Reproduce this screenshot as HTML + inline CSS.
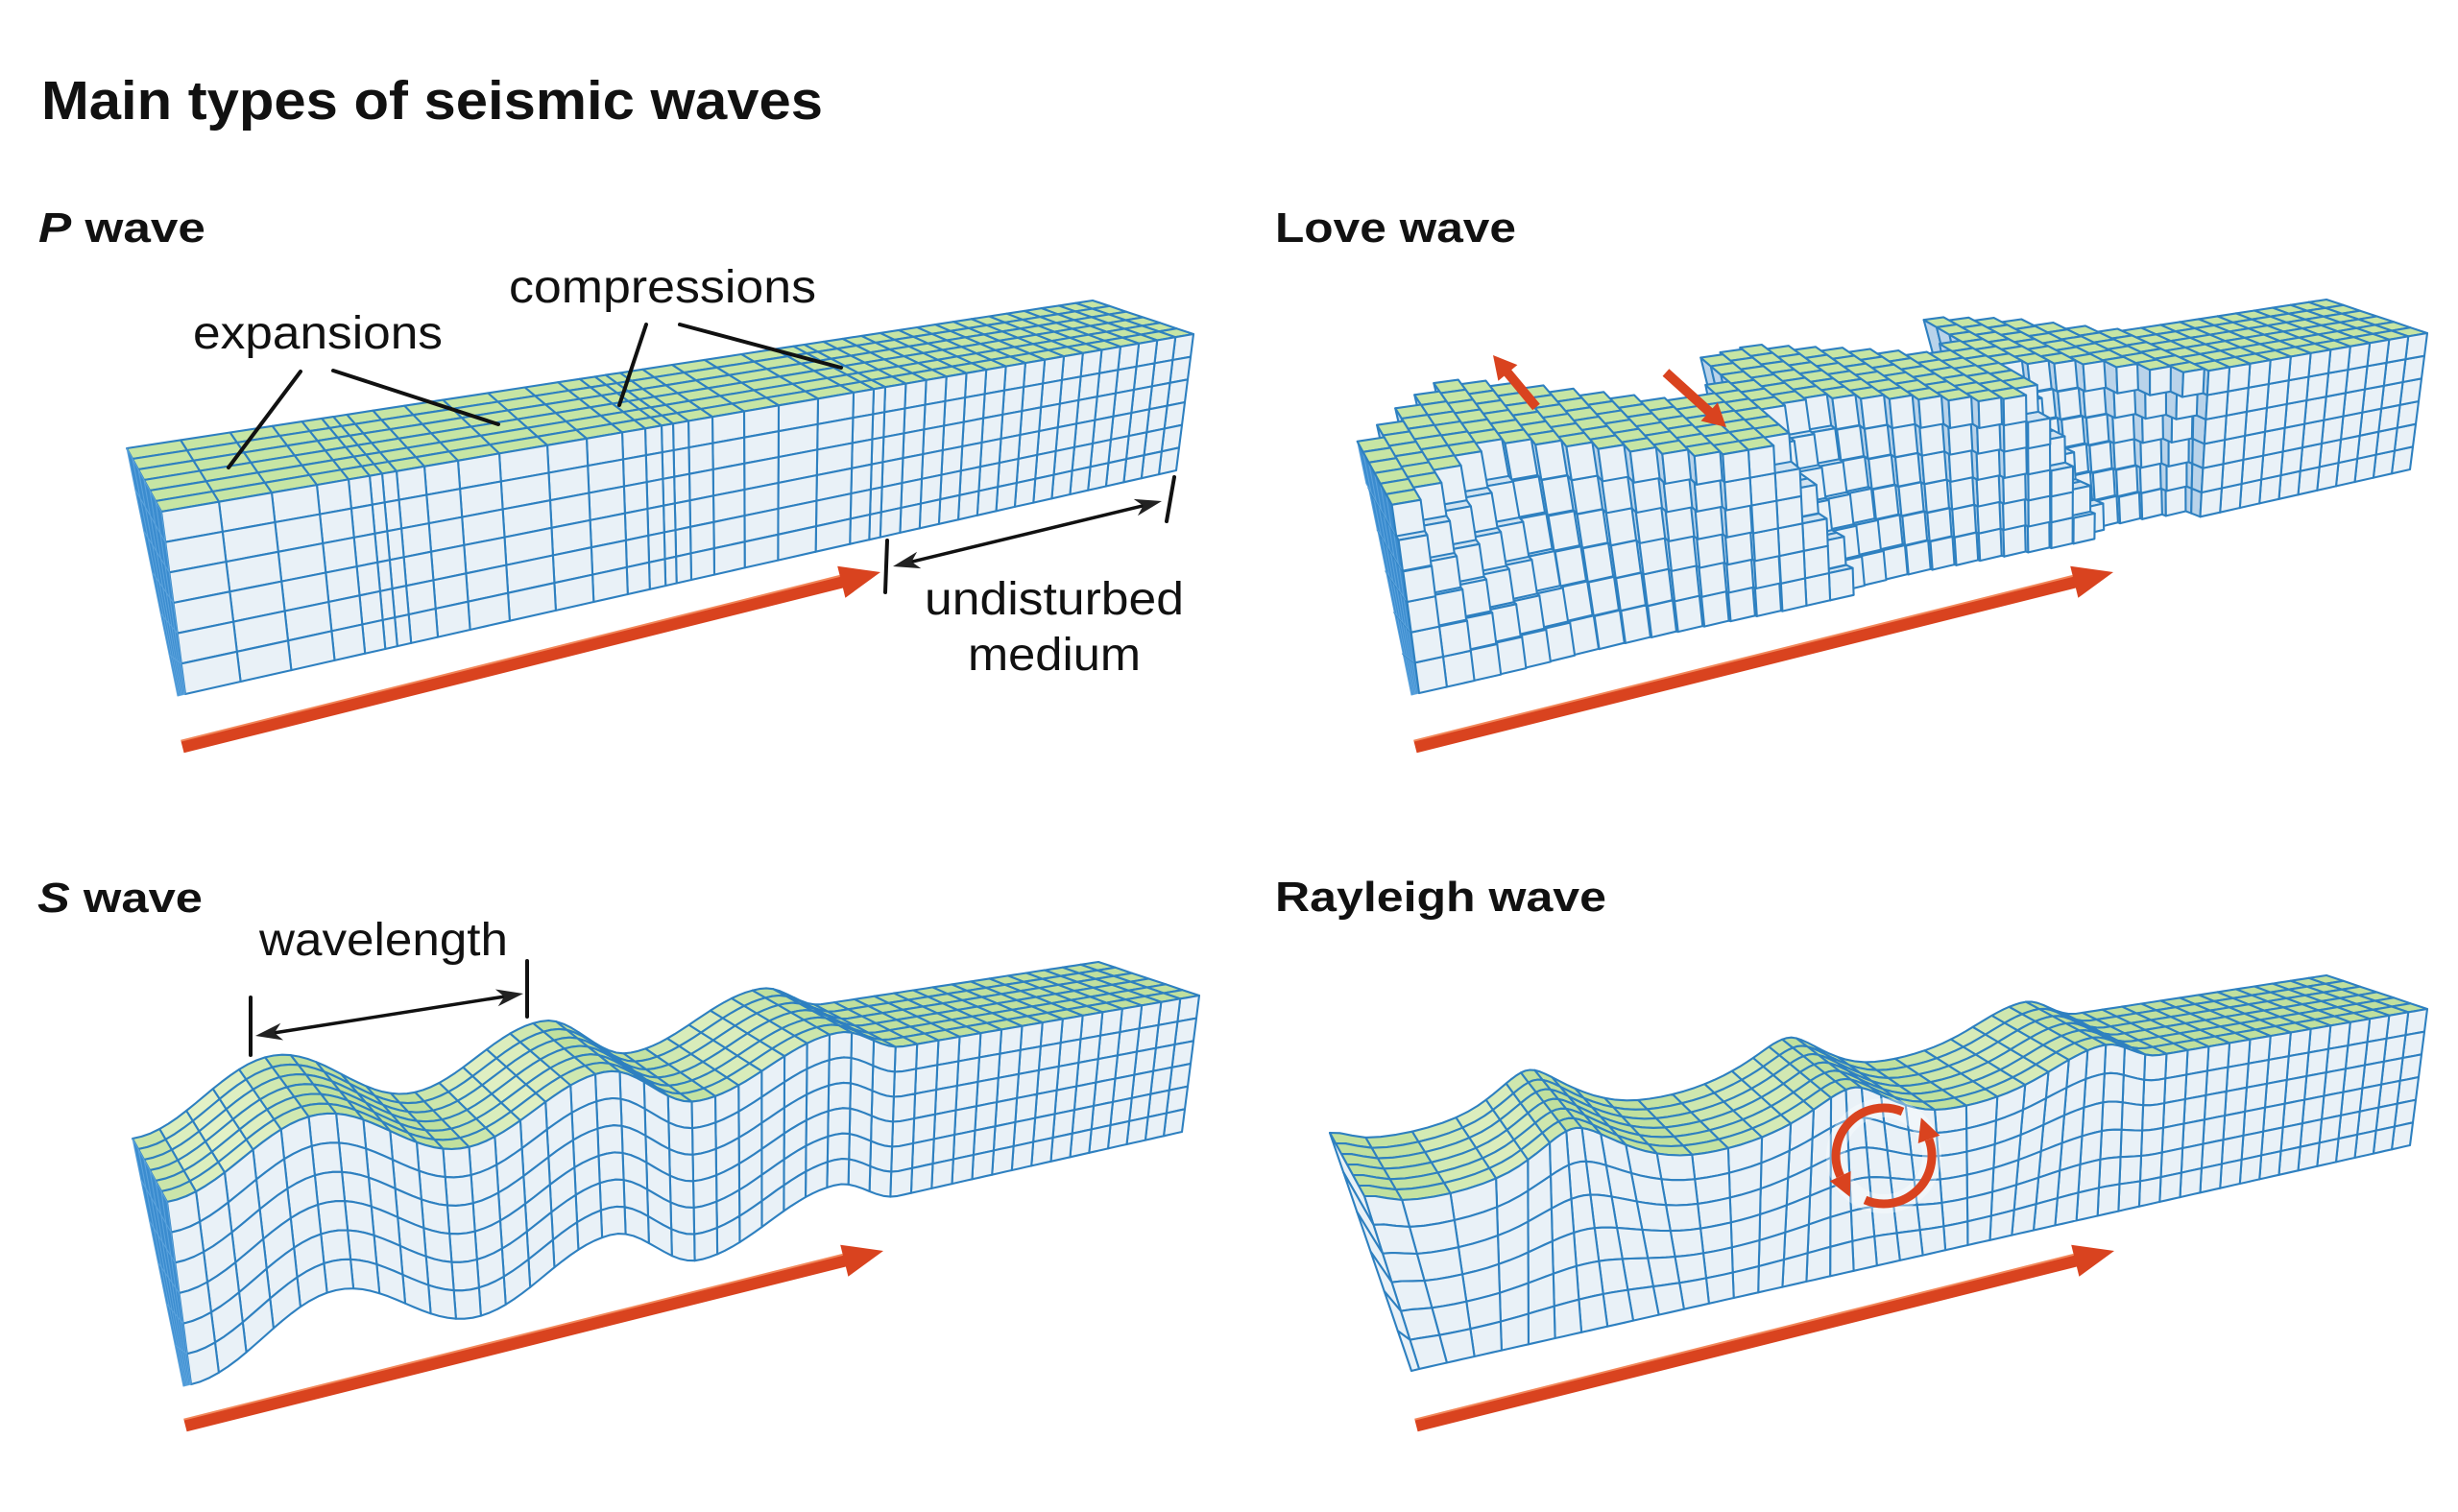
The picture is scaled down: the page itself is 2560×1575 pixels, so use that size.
<!DOCTYPE html>
<html><head><meta charset="utf-8">
<style>
html,body{margin:0;padding:0;background:#fff;}
svg{display:block;}
text{font-family:"Liberation Sans",Arial,sans-serif;fill:#111;}
</style></head><body>
<svg id="s" xmlns="http://www.w3.org/2000/svg" width="2560" height="1575" viewBox="0 0 2560 1575">
<rect width="2560" height="1575" fill="#fff"/>
<g id="blocks" stroke="#2e80c0" stroke-width="2.1" stroke-linejoin="round"></g>

<!-- leader lines -->
<g stroke="#111" stroke-width="4" stroke-linecap="round" fill="none">
<line x1="313" y1="387" x2="238" y2="487"/>
<line x1="347" y1="386" x2="519" y2="442"/>
<line x1="673" y1="338" x2="645" y2="422"/>
<line x1="708" y1="338" x2="876" y2="383"/>
</g>

<!-- red propagation arrows -->
<g id="redarrow">
<polygon points="188.4,771.7 874.7,599.9 872.2,589.7 917,596 880.4,622.7 877.9,612.5 191.6,784.3" fill="#d9431f"/>
<polyline points="188.4,771.7 874.7,599.9" stroke="#f2875a" stroke-width="2" fill="none"/>
</g>
<use href="#redarrow" transform="translate(1284,0)"/>
<use href="#redarrow" transform="translate(3,707)"/>
<use href="#redarrow" transform="translate(1285,707)"/>

<!-- Love wave small arrows -->
<polygon points="1603.8,420.8 1574.2,385.2 1580.4,380.1 1555,370 1560.4,396.7 1566.6,391.6 1596.2,427.2" fill="#d9431f"/>
<polygon points="1731.6,391.7 1776.8,432.6 1771.5,438.5 1798,445 1788.9,419.3 1783.6,425.2 1738.4,384.3" fill="#d9431f"/>

<!-- dimension markers -->
<g stroke="#111" stroke-width="4" stroke-linecap="round">
<line x1="924" y1="563" x2="922" y2="617"/>
<line x1="1223" y1="497" x2="1215" y2="543"/>
<line x1="949" y1="585.3" x2="1191" y2="526.7" stroke-width="3.5"/>
<line x1="261" y1="1039" x2="261" y2="1099"/>
<line x1="549" y1="1001" x2="549" y2="1059"/>
<line x1="285.8" y1="1075.9" x2="525.2" y2="1038.1" stroke-width="3.5"/>
</g>
<g fill="#222">
<polygon points="930,590 955.1,574.7 949.4,585.3 959.3,592.1"/>
<polygon points="1210,522 1180.7,519.9 1190.6,526.7 1184.9,537.3"/>
<polygon points="266,1079 292.3,1065.7 285.8,1075.9 295.1,1083.5"/>
<polygon points="545,1035 515.9,1030.5 525.2,1038.1 518.7,1048.3"/>
</g>

<!-- Rayleigh circular arrows -->
<circle cx="1962" cy="1204" r="50" fill="none" stroke="#ffffff" stroke-opacity="0.35" stroke-width="20"/>
<g fill="none" stroke="#d9431f" stroke-width="9">
<path d="M1981.5,1158.0 A50,50 0 0 0 1916.7,1225.1"/>
<path d="M1942.5,1250.0 A50,50 0 0 0 2009.0,1186.9"/>
</g>
<g fill="#d9431f">
<polygon points="1905.8,1230.2 1927.6,1220.0 1926.8,1246.9"/>
<polygon points="2020.3,1182.8 1997.7,1191.0 2000.8,1164.3"/>
</g>

<!-- text -->
<text x="43" y="124" font-size="57" font-weight="bold" textLength="814" lengthAdjust="spacingAndGlyphs">Main types of seismic waves</text>
<text x="40" y="252" font-size="44" font-weight="bold" textLength="174" lengthAdjust="spacingAndGlyphs"><tspan font-style="italic">P</tspan> wave</text>
<text x="1328" y="252" font-size="44" font-weight="bold" textLength="251" lengthAdjust="spacingAndGlyphs">Love wave</text>
<text x="39" y="950" font-size="44" font-weight="bold" textLength="172" lengthAdjust="spacingAndGlyphs"><tspan font-style="italic">S</tspan> wave</text>
<text x="1328" y="949" font-size="44" font-weight="bold" textLength="345" lengthAdjust="spacingAndGlyphs">Rayleigh wave</text>
<text x="201" y="363" font-size="48" textLength="260" lengthAdjust="spacingAndGlyphs">expansions</text>
<text x="530" y="315" font-size="48" textLength="320" lengthAdjust="spacingAndGlyphs">compressions</text>
<text x="963" y="640" font-size="48" textLength="270" lengthAdjust="spacingAndGlyphs">undisturbed</text>
<text x="1008" y="698" font-size="48" textLength="180" lengthAdjust="spacingAndGlyphs">medium</text>
<text x="270" y="995" font-size="48" textLength="259" lengthAdjust="spacingAndGlyphs">wavelength</text>
</svg>
<script>
(function(){
var K=0.806;
function f(u){return u/(u+K*(1-u));}
function finv(t){return t*K/(1-t+t*K);}
function interp(pts,X,cs){
  var n=pts.length;
  if(X<=pts[0][0])return pts[0][1];
  if(X>=pts[n-1][0])return pts[n-1][1];
  for(var i=0;i<n-1;i++){var a=pts[i],b=pts[i+1];
    if(X<=b[0]){var t=(X-a[0])/(b[0]-a[0]);if(cs)t=(1-Math.cos(Math.PI*t))/2;return a[1]+(b[1]-a[1])*t;}}
  return pts[n-1][1];
}
function P(u,v,w,disp){
  var t=f(u);
  var Tx=168+t*1075,Ty=533-t*185,Bx=193+t*1032,By=723-t*233;
  var x=Tx+v*(Bx-Tx),y=Ty+v*(By-Ty);
  var ax=-36-69*t,ay=-66+31*t,bx=-8-60*t,by=2-30*t;
  x+=w*(ax*(1-v)+bx*v);y+=w*(ay*(1-v)+by*v);
  if(disp){var d=disp(Tx,v);x+=d[0];y+=d[1];}
  return [x,y];
}
function poly(pts,fill,extra){
  var s='<polygon points="';
  for(var i=0;i<pts.length;i++){s+=pts[i][0].toFixed(1)+','+pts[i][1].toFixed(1)+' ';}
  return s+'" fill="'+fill+'"'+(extra||'')+'/>';
}
function face(F,a0,a1,b0,b1,ma,mb){
  var pts=[],i;
  for(i=0;i<ma;i++)pts.push(F(a0+(a1-a0)*i/ma,b0));
  for(i=0;i<mb;i++)pts.push(F(a1,b0+(b1-b0)*i/mb));
  for(i=0;i<ma;i++)pts.push(F(a1-(a1-a0)*i/ma,b1));
  for(i=0;i<mb;i++)pts.push(F(a0,b1-(b1-b0)*i/mb));
  return pts;
}
function hx(c){return [parseInt(c.substr(1,2),16),parseInt(c.substr(3,2),16),parseInt(c.substr(5,2),16)];}
function mix(a,b,t){var A=hx(a),B=hx(b);return 'rgb('+A.map(function(x,i){return Math.round(x+(B[i]-x)*t);}).join(',')+')';}
var GREEN='#c6e5a4',FRONT='#e9f1f7',LEFT='#3b8ccf',LEFTS=' stroke="#5aa2dc" stroke-width="1"';

function smooth(off,us,disp,shade,R,W,m,lc,ls){
  var s='<g transform="translate('+off[0]+','+off[1]+')">';
  var N=us.length-1,i,j,k;
  for(i=N-1;i>=0;i--){
    var u0=us[i],u1=us[i+1];
    var g=GREEN;
    if(shade&&disp){
      var X0=168+f(u0)*1075,X1=168+f(u1)*1075;
      var sl=(disp(X1,0)[1]-disp(X0,0)[1])/(X1-X0);
      g=mix('#c0e09e','#eaf5cf',Math.max(0,Math.min(1,-sl*1.3)));
    }
    for(k=W-1;k>=0;k--){
      s+=poly(face(function(a,b){return P(a,0,b,disp);},u0,u1,k/W,(k+1)/W,m,1),g);
    }
    for(j=0;j<R;j++){
      s+=poly(face(function(a,b){return P(a,b,0,disp);},u0,u1,j/R,(j+1)/R,m,m),FRONT);
    }
  }
  if(lc===FRONT){
    for(j=0;j<R;j++){
      s+=poly(face(function(a,b){return P(0,a,b,disp);},j/R,(j+1)/R,0,1,2,1),FRONT);
    }
  } else {
    for(j=0;j<R;j++)for(k=0;k<W;k++){
      s+=poly(face(function(a,b){return P(0,a,b,disp);},j/R,(j+1)/R,k/W,(k+1)/W,1,1),lc,ls);
    }
  }
  return s+'</g>';
}

var LOVE=[[168,0.0],[200,0.2],[250,0.55],[300,0.8],[340,0.7],[394,0.5],[450,0.25],[507,0.0],[570,0.0],[590,0.6],[650,0.7],[740,0.4],[800,0.15],[840,0.1],[865,0.75],[930,0.55],[1012,0]];
function loveDW(X,j){
  if(X>1012)return 0;
  return interp(LOVE,X-12*j,false)*Math.max(0,1-0.08*j);
}
function love(off){
  var s='<g transform="translate('+off[0]+','+off[1]+')">';
  var N=44,R=6,W=6,i,j,k;
  for(i=N-1;i>=0;i--){
    var u0=i/N,u1=(i+1)/N,Xm=168+f((u0+u1)/2)*1075;
    for(j=R-1;j>=0;j--){
      var dw=loveDW(Xm,j),v0=j/R,v1=(j+1)/R;
      var lc=(i==0)?LEFT:'#b9d3ea',ls=(i==0)?LEFTS:'';
      for(k=W-1;k>=0;k--){
        s+=poly([P(u0,v0,dw+k/W),P(u0,v0,dw+(k+1)/W),P(u0,v1,dw+(k+1)/W),P(u0,v1,dw+k/W)],lc,ls);
      }
      var tc=(j==0)?GREEN:'#d2e4f1';
      for(k=W-1;k>=0;k--){
        s+=poly([P(u0,v0,dw+k/W),P(u1,v0,dw+k/W),P(u1,v0,dw+(k+1)/W),P(u0,v0,dw+(k+1)/W)],tc);
      }
      s+=poly([P(u0,v0,dw),P(u1,v0,dw),P(u1,v1,dw),P(u0,v1,dw)],FRONT);
    }
  }
  return s+'</g>';
}

// P wave column positions (compressions / expansions)
var PX=[168,228,283,330,363,385,398,413,442,477,520,570,611,648,672,689,701,717,742,775,811,852,889,910,922];
var usP=PX.map(function(x){return finv((x-168)/1075);});
var ue=usP[usP.length-1];
for(var i=1;i<=16;i++)usP.push(ue+(1-ue)*i/16);

var usU=[];for(var i=0;i<=44;i++)usU.push(i/44);

var SPTS=[[168,30],[325,-34],[477,27],[625,-27],[720,20],[868,-26],[935,0],[1300,0]];
var RPTS=[[168,10],[205,20],[355,-28],[485,21],[648,-20],[748,19],[903,-21],[965,0],[1300,0]];
var RDX=[[168,-32],[278,20],[420,-20],[566,18],[698,-16],[825,14],[950,0],[1300,0]];
function dispS(X,v){return [0,interp(SPTS,X,true)];}
function dispR(X,v){
  var a=interp(RPTS,X,true);var e=Math.pow(Math.max(0,1-v),1.1);
  var dx=interp(RDX,X,true)*Math.max(0,1-v);
  return [dx,a*e];
}

var out='';
out+=smooth([0,0],usP,null,false,6,6,1,LEFT,LEFTS);
out+=love([1285,-1]);
out+=smooth([6,689],usU,dispS,true,6,6,3,LEFT,LEFTS);
out+=smooth([1285,703],usU,dispR,true,6,6,3,FRONT,'');
document.getElementById('blocks').innerHTML=out;
})();
</script>
</body></html>
